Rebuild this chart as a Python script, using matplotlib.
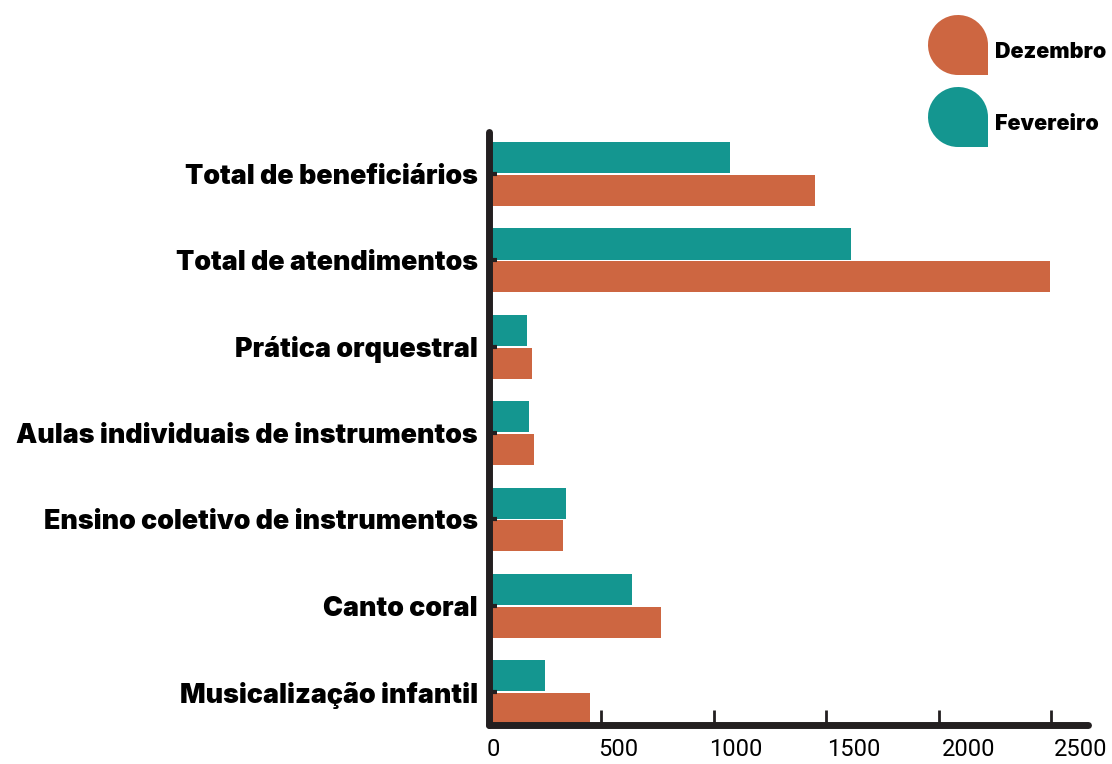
import matplotlib
matplotlib.use("Agg")
import matplotlib.pyplot as plt
from matplotlib.path import Path
from matplotlib.patches import PathPatch
import numpy as np

categories = ["Total de beneficiários", "Total de atendimentos", "Prática orquestral",
              "Aulas individuais de instrumentos", "Ensino coletivo de instrumentos",
              "Canto coral", "Musicalização infantil"]
fevereiro = [1073, 1611, 171, 176, 344, 638, 247]
dezembro = [1451, 2496, 193, 202, 327, 767, 447]
tick_values = [500, 1000, 1500, 2000, 2500]
tick_labels = ["0", "500", "1000", "1500", "2000", "2500"]
label_positions = [20, 576, 1096, 1620, 2131, 2629]

ORANGE = "#CD6641"
TEAL = "#149690"
DARK = "#231F20"

fig = plt.figure(figsize=(11.12, 7.64), dpi=100)
ax = fig.add_axes([489 / 1112, 1 - 725 / 764, (1088 - 489) / 1112, (725 - 132) / 764])

y = np.arange(len(categories))
h = 0.36
ax.barh(y - 0.19, fevereiro, height=h, color=TEAL, zorder=1)
ax.barh(y + 0.19, dezembro, height=h, color=ORANGE, zorder=1)

ax.set_xlim(0, 2664)
ax.set_ylim(6.38, -0.487)

for s in ["top", "right"]:
    ax.spines[s].set_visible(False)
for s in ["left", "bottom"]:
    ax.spines[s].set_linewidth(5)
    ax.spines[s].set_color(DARK)
    ax.spines[s].set_capstyle("round")
    ax.spines[s].set_zorder(3)

ax.set_yticks(y)
ax.set_yticklabels(categories, fontfamily="Inter", fontweight=900, fontsize=19.3, color="black")
ax.tick_params(axis="y", direction="in", length=6, width=3, color=DARK, pad=8)

ax.set_xticks(tick_values)
ax.set_xticklabels([])
ax.tick_params(axis="x", which="major", direction="in", length=11, width=2, color=DARK)
ax.set_xticks(label_positions, minor=True)
ax.set_xticklabels(tick_labels, minor=True, fontfamily="Roboto", fontweight="normal", fontsize=17, color="black")
ax.tick_params(axis="x", which="minor", length=0, pad=9)


def drop_path(cx, cy, r):
    arc = Path.arc(0, 270)
    verts = list(arc.vertices * r + np.array([cx, cy]))
    codes = list(arc.codes)
    verts += [(cx + r, cy - r), (cx + r, cy), (cx + r, cy)]
    codes += [Path.LINETO, Path.LINETO, Path.CLOSEPOLY]
    return Path(verts, codes)


legend_items = [("Dezembro", ORANGE, 45), ("Fevereiro", TEAL, 117)]
for name, col, cy_px in legend_items:
    cx_in = 958 / 100
    cy_in = (764 - cy_px) / 100
    p = PathPatch(drop_path(cx_in, cy_in, 0.30), facecolor=col, edgecolor="none",
                  transform=fig.dpi_scale_trans)
    fig.add_artist(p)
    fig.text(995 / 1112, 1 - (cy_px + 7) / 764, name, fontfamily="Inter", fontweight=900,
             fontsize=15.5, color="black", va="center", ha="left")

fig.savefig("out.png", dpi=100)
